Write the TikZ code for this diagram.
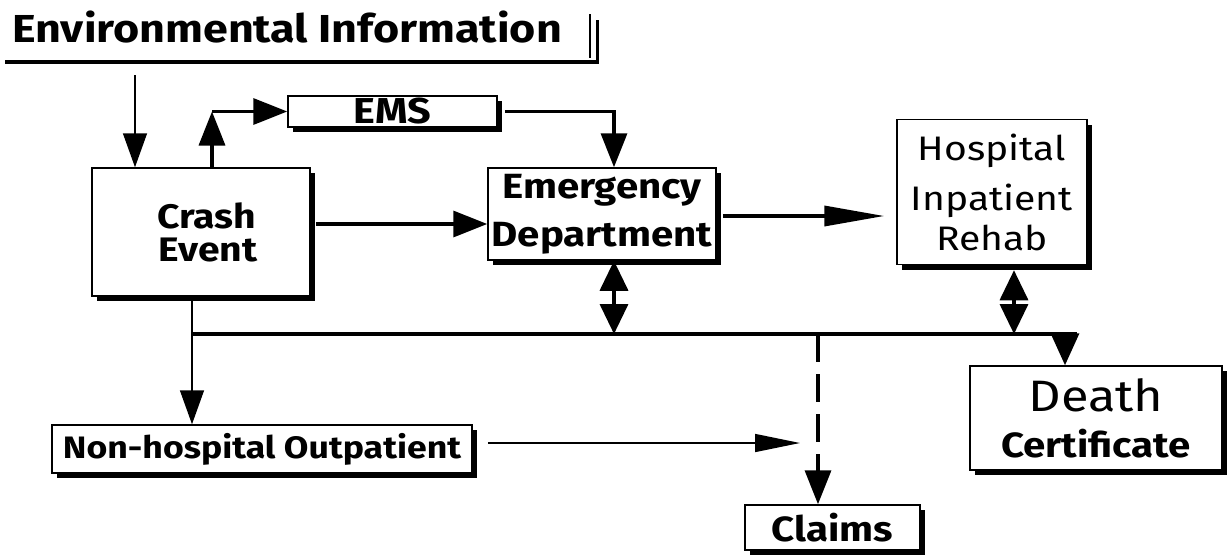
\documentclass[tikz,border=0pt]{standalone}
\usepackage{fontspec}
\setmainfont{Fira Sans}[FakeStretch=1.15]
\usetikzlibrary{arrows.meta,shadows}

\begin{document}
\begin{tikzpicture}[x=1pt, y=-1pt,
	box/.style={draw, line width=1.5pt, fill=white, inner sep=0pt, align=center,
		drop shadow={shadow xshift=5pt, shadow yshift=-5pt, fill=black, opacity=1}},
	thinarr/.style={line width=1.5pt, -{Triangle[length=34pt, width=24pt]}},
	thickarr/.style={line width=3.5pt, -{Triangle[length=34pt, width=26pt]}},
	dblarr/.style={line width=3.5pt, {Triangle[length=30pt, width=28pt]}-{Triangle[length=30pt, width=28pt]}},
	sz/.style={font=\fontsize{#1pt}{#1pt}\selectfont\bfseries},
	szr/.style={font=\fontsize{#1pt}{#1pt}\selectfont}]

	\useasboundingbox (0, 0) rectangle (1227, 555);

	% the boxes
	\node[sz=39, anchor=west, inner sep=0pt] (env) at (12, 27) {Environmental Information};
	\draw[line width=3.5pt] (5, 62) -- (597, 62);
	\draw[line width=1.5pt] (590, 14) -- (590, 58);
	\draw[line width=3pt] (597, 20) -- (597, 63.5);

	\node[box, sz=34, minimum width=218pt, minimum height=128pt] (crash) at (201, 232)
		{\hspace*{12pt}Crash\\[-1pt]\hspace*{14pt}Event};
	\node[box, sz=36, minimum width=209pt, minimum height=31pt] (ems) at (392.5, 111.5) {EMS};
	\node[box, sz=35, minimum width=228pt, minimum height=92pt] (ed) at (602, 214)
		{Emergency\\[13pt]Department};
	\node[box, szr=34, minimum width=190pt, minimum height=145pt] (hosp) at (992, 192)
		{Hospital\\[16pt]Inpatient\\[6pt]Rehab};
	\node[box, minimum width=252pt, minimum height=104pt] (death) at (1096, 418)
		{\fontsize{44pt}{44pt}\selectfont Death\\[16pt]\fontsize{35pt}{35pt}\selectfont\bfseries Certificate};
	\node[box, sz=31, minimum width=420pt, minimum height=48pt] (nonhosp) at (262, 449)
		{Non-hospital Outpatient};
	\node[box, sz=35, minimum width=175pt, minimum height=45pt] (claims) at (832.5, 527.5) {Claims};

	% the connectors
	\coordinate (envout) at (135, 75);
	\draw[thinarr] (envout) -- (envout |- crash.north);

	\coordinate (crashup) at ([xshift=11pt]crash.north);
	\coordinate (emsturn) at (crashup |- ems.west);
	\draw[thickarr] (crashup) -- (emsturn);
	\draw[thickarr] (emsturn) -- (ems.west);
	\draw[thickarr] ([xshift=7pt]ems.east) -| ([xshift=12pt]ed.north);

	\coordinate (crashright) at ([xshift=5pt, yshift=8pt]crash.east);
	\draw[thickarr] (crashright) -- (crashright -| ed.west);
	\coordinate (edright) at ([xshift=6pt, yshift=-2pt]ed.east);
	\draw[thickarr, -{Triangle[length=60pt, width=20pt]}] (edright) -- ([xshift=-12pt]edright -| hosp.west);

	% the common line
	\coordinate (busL) at (192, 334);
	\coordinate (busR) at (1077, 334);
	\draw[line width=4pt] (busL) -- (busR);
	\draw[dblarr] ([xshift=12pt]ed.south) -- ([xshift=12pt]ed.south |- busL);
	\draw[dblarr, shorten <=5pt] ([xshift=22pt]hosp.south) -- ([xshift=22pt]hosp.south |- busL);
	\draw[thickarr, -{Triangle[length=32pt, width=28pt]}] ([xshift=-31pt]death.north |- busL) -- ([xshift=-31pt]death.north);

	\coordinate (crashdown) at ([xshift=-9pt]crash.south);
	\draw[thinarr] (crashdown) -- (crashdown |- nonhosp.north);

	\coordinate (outstart) at ([xshift=15pt, yshift=6pt]nonhosp.east);
	\coordinate (outend) at (800, 443);
	\draw[line width=1.5pt, -{Triangle[length=45pt, width=18pt]}] (outstart) -- (outend);

	\coordinate (claimsin) at ([xshift=-14.5pt]claims.north);
	\draw[thickarr, dash pattern=on 28pt off 12pt] (claimsin |- busL) -- (claimsin);

\end{tikzpicture}
\end{document}
